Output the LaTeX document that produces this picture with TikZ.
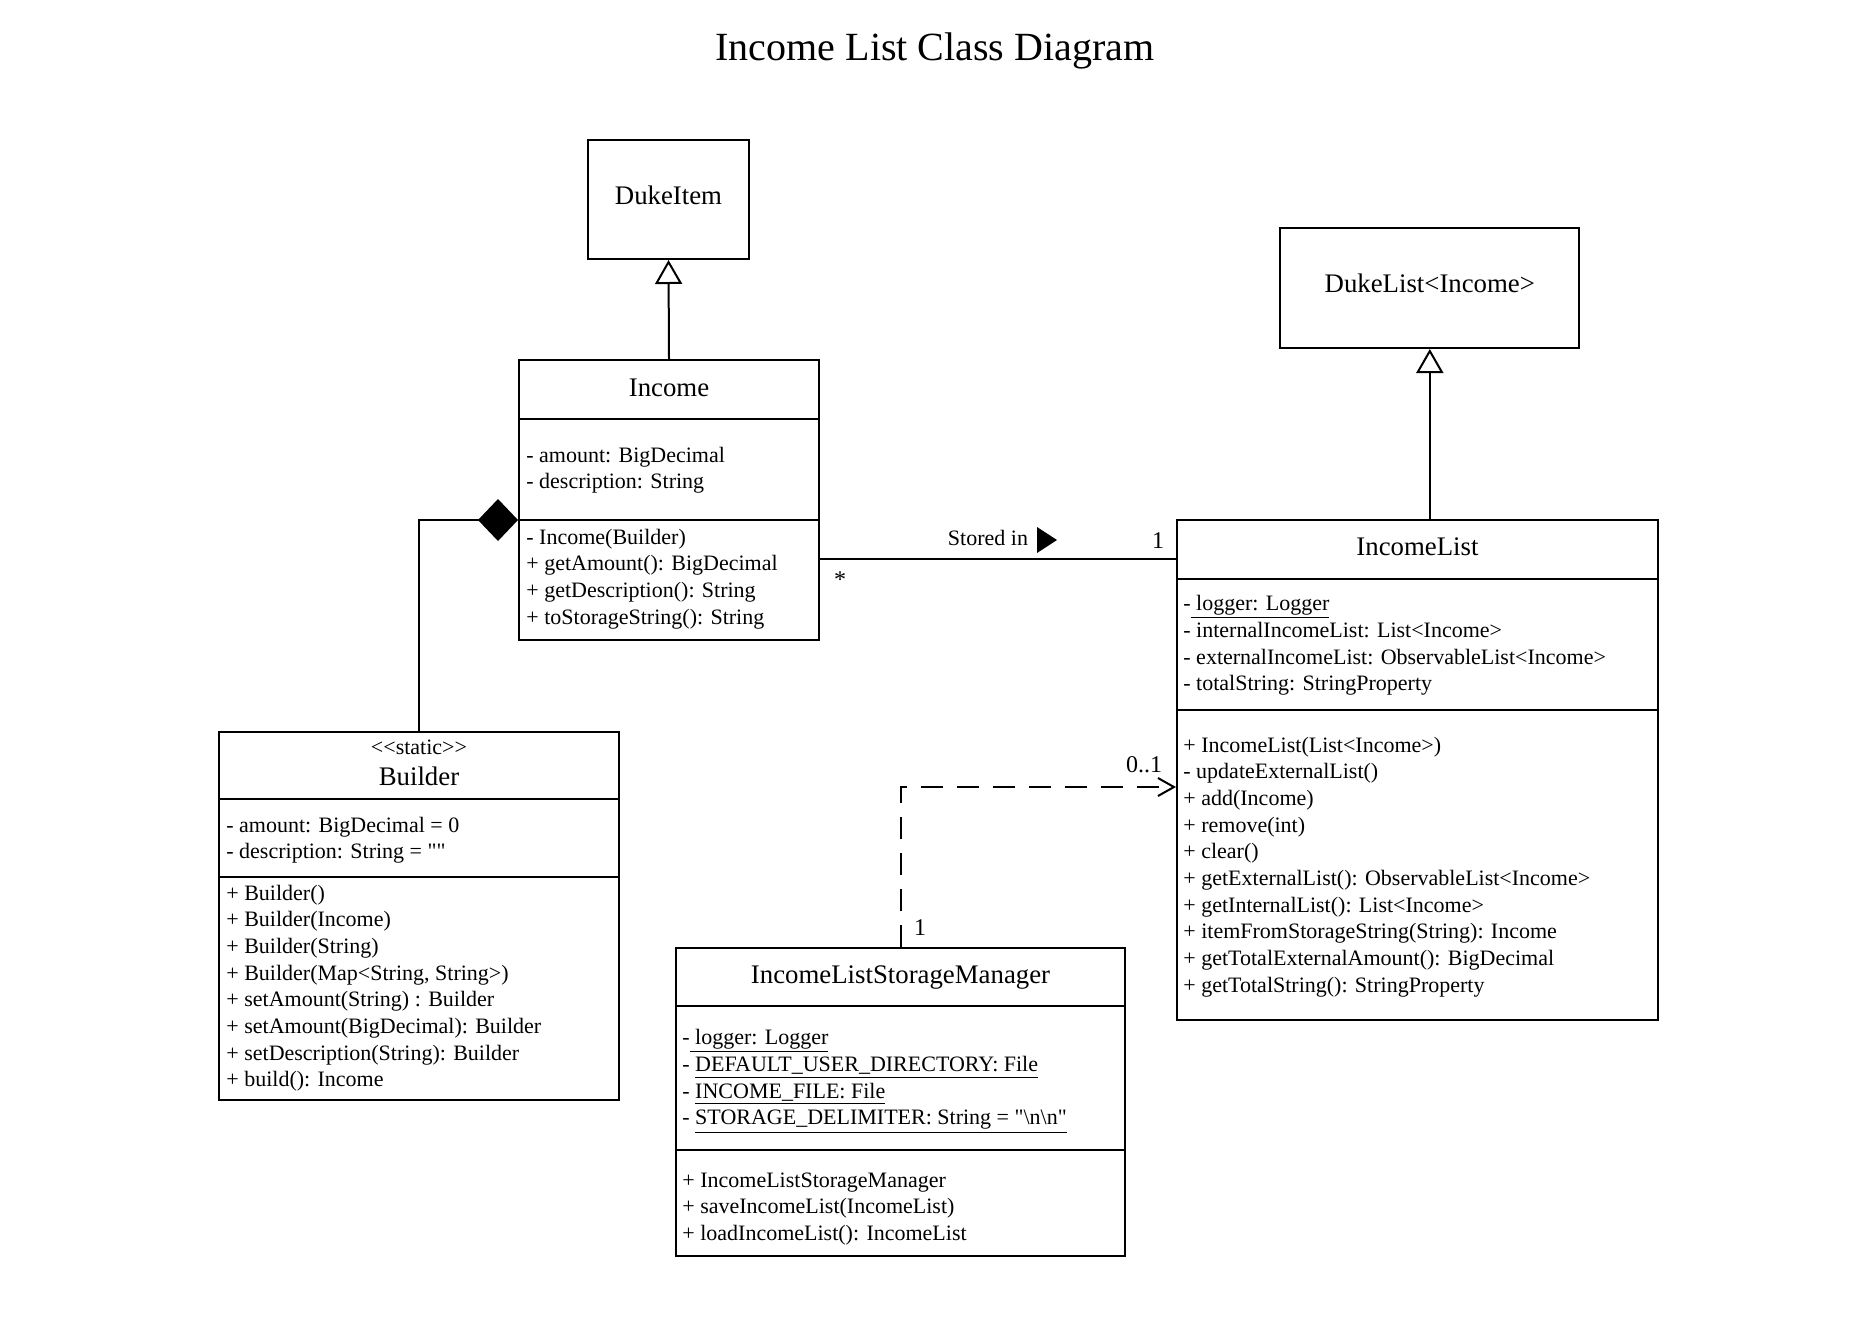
\documentclass[tikz,border=0pt]{standalone}
\usepackage{fontspec}
\setmainfont{Liberation Serif}
\newfontfamily\rawserif{Liberation Serif}[Ligatures=TeXOff]
\usetikzlibrary{arrows.meta,calc}
\newcommand\memlist[1]{\begin{tabular}{@{}l@{}}#1\end{tabular}}
\newcommand\sq{{\rawserif\char34}}
\begin{document}
\begin{tikzpicture}[
  x=0.5pt, y=-0.5pt,
  classbox/.style 2 args={draw, line width=1pt, inner sep=0pt, minimum width=#1*0.5pt, minimum height=#2*0.5pt},
  boxline/.style={line width=1pt},
  cname/.style={anchor=base, inner sep=0pt, font=\fontsize{13.4}{16}\selectfont},
  stereo/.style={anchor=base, inner sep=0pt, font=\fontsize{11}{13.2}\selectfont},
  members/.style={anchor=north west, inner sep=0pt, font=\fontsize{11}{13.33}\selectfont},
  lbl/.style={inner sep=0pt, font=\fontsize{11}{13.2}\selectfont},
  mult/.style={inner sep=0pt, font=\fontsize{12}{14.4}\selectfont},
  titlestyle/.style={anchor=base, inner sep=0pt, font=\fontsize{20}{24}\selectfont},
  inherit/.style={line width=1pt, -{Triangle[open, length=12pt, width=13.5pt, line width=1pt]}},
  comp/.style={line width=1pt, {Diamond[length=20pt, width=21pt]}-},
  dep/.style={line width=1pt, dash pattern=on 11pt off 7pt, -{Straight Barb[length=8pt, width=9pt, line width=1pt]}},
  assoc/.style={line width=1pt}
]
\fill[white] (0,0) rectangle (1869,1323);
\useasboundingbox (0,0) rectangle (1869,1323);

% title
\node[titlestyle] (title) at (935,60) {Income List Class Diagram};

% DukeItem
\node[classbox={161}{119}] (dukeitem) at (668.5,199.5) {};
\node[cname] (dukeitemname) at (668.5,204) {DukeItem};

% DukeList<Income>
\node[classbox={299}{120}] (dukelist) at (1429.8,288) {};
\node[cname] (dukelistname) at (1429.8,292) {DukeList<Income>};

% Income
\node[classbox={300}{280}] (income) at (669,500) {};
\node[cname] (incomename) at (669,396) {Income};
\draw[boxline] ($(income.north west)+(0,60)$) -- ($(income.north east)+(0,60)$);
\draw[boxline] ($(income.north west)+(0,161)$) -- ($(income.north east)+(0,161)$);
\node[members] (incomeattr) at (526,443) {\memlist{- amount: BigDecimal\\- description: String}};
\node[members] (incomemeth) at (526,525) {\memlist{- Income(Builder)\\+ getAmount(): BigDecimal\\+ getDescription(): String\\+ toStorageString(): String}};

% Builder
\node[classbox={400}{368}] (builder) at (419,916) {};
\node[stereo] (builderstereo) at (419,754) {<{}<static>{}>};
\node[cname] (buildername) at (419,785) {Builder};
\draw[boxline] ($(builder.north west)+(0,68)$) -- ($(builder.north east)+(0,68)$);
\draw[boxline] ($(builder.north west)+(0,146)$) -- ($(builder.north east)+(0,146)$);
\node[members] (builderattr) at (226,813) {\memlist{- amount: BigDecimal = 0\\- description: String = \sq\sq}};
\node[members] (buildermeth) at (226,881) {\memlist{+ Builder()\\+ Builder(Income)\\+ Builder(String)\\+ Builder(Map<String, String>)\\+ setAmount(String) : Builder\\+ setAmount(BigDecimal): Builder\\+ setDescription(String): Builder\\+ build(): Income}};

% IncomeListStorageManager
\node[classbox={449}{308}] (ilsm) at (900.5,1102) {};
\node[cname] (ilsmname) at (900.5,983) {IncomeListStorageManager};
\draw[boxline] ($(ilsm.north west)+(0,59)$) -- ($(ilsm.north east)+(0,59)$);
\draw[boxline] ($(ilsm.north west)+(0,203)$) -- ($(ilsm.north east)+(0,203)$);
\node[members] (ilsmattr) at (682,1025) {\memlist{-\underline{ logger: Logger}\\- \underline{DEFAULT\_USER\_DIRECTORY: File}\\- \underline{INCOME\_FILE: File}\\- \underline{STORAGE\_DELIMITER: String = \sq\textbackslash n\textbackslash n\sq}}};
\node[members] (ilsmmeth) at (682,1168) {\memlist{+ IncomeListStorageManager\\+ saveIncomeList(IncomeList)\\+ loadIncomeList(): IncomeList}};

% IncomeList
\node[classbox={481}{500}] (incomelist) at (1417.5,770) {};
\node[cname] (incomelistname) at (1417.5,555) {IncomeList};
\draw[boxline] ($(incomelist.north west)+(0,60)$) -- ($(incomelist.north east)+(0,60)$);
\draw[boxline] ($(incomelist.north west)+(0,191)$) -- ($(incomelist.north east)+(0,191)$);
\node[members] (incomelistattr) at (1183,591) {\memlist{-\underline{ logger: Logger}\\- internalIncomeList: List<Income>\\- externalIncomeList: ObservableList<Income>\\- totalString: StringProperty}};
\node[members] (incomelistmeth) at (1183,733) {\memlist{+ IncomeList(List<Income>)\\- updateExternalList()\\+ add(Income)\\+ remove(int)\\+ clear()\\+ getExternalList(): ObservableList<Income>\\+ getInternalList(): List<Income>\\+ itemFromStorageString(String): Income\\+ getTotalExternalAmount(): BigDecimal\\+ getTotalString(): StringProperty}};

% connectors
\draw[inherit] (income.north) -- (dukeitem.south);
\draw[inherit] (incomelist.north -| dukelist.south) -- (dukelist.south);
\draw[comp] ($(income.north west)+(0,161)$) -| (builder.north);
\draw[assoc] ($(income.north east)+(0,200)$) -- ($(incomelist.north west)+(0,40)$);
\draw[dep] (ilsm.north) |- ($(incomelist.north west)+(0,268)$);

% association labels
\node[lbl] (storedin) at (988,538) {Stored in};
\fill (1037,527) -- (1057,540) -- (1037,553) -- cycle;
\node[mult] (multone) at (1158,541) {1};
\node[mult] (multstar) at (840,580) {*};
\node[mult] (multzeroone) at (1144,765) {0..1};
\node[mult] (multilsm) at (920,928) {1};
\end{tikzpicture}
\end{document}
